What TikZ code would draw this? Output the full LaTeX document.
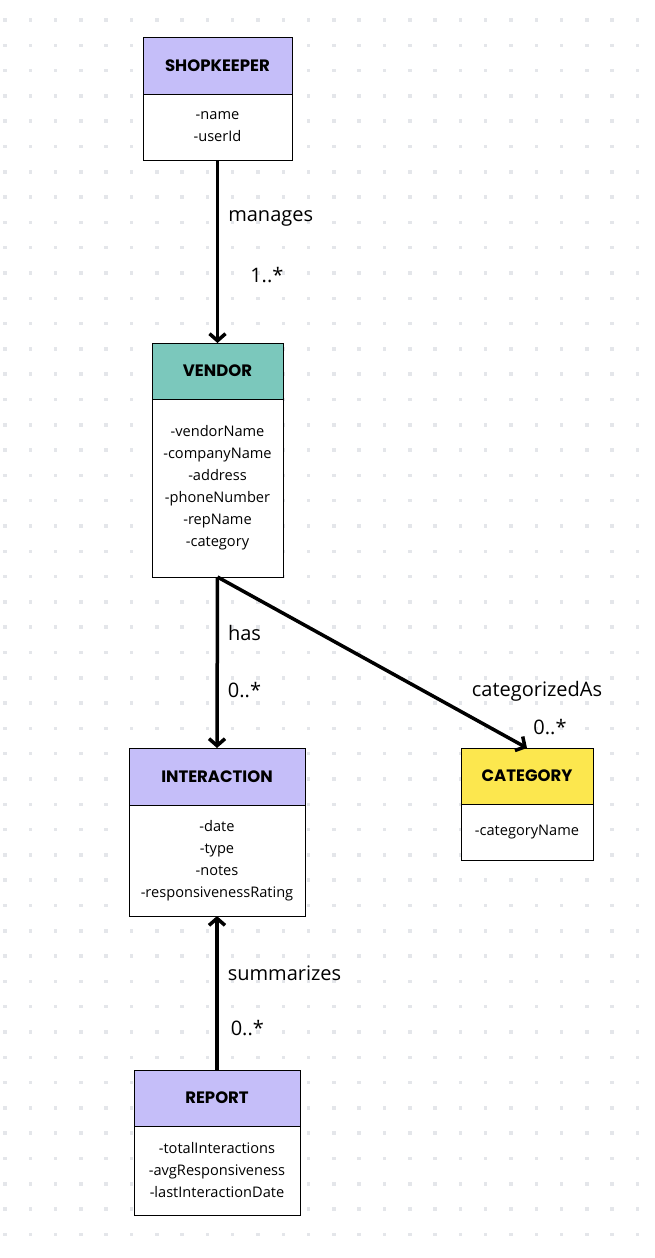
\documentclass[tikz,border=0pt]{standalone}
\usepackage{fontspec}
\setmainfont{Open Sans}
\newfontfamily\titlefont{Poppins}
\usetikzlibrary{positioning,arrows.meta}
\definecolor{classpurple}{RGB}{197,190,249}
\definecolor{classteal}{RGB}{123,200,188}
\definecolor{classyellow}{RGB}{252,231,78}
\definecolor{griddot}{RGB}{228,230,234}

\begin{document}
\begin{tikzpicture}[x=1pt, y=-1pt, node distance=0pt,
    classhead/.style={draw, line width=1pt, outer sep=0pt, inner sep=0pt, font=\titlefont\bfseries\fontsize{16.5}{18}\selectfont},
    classbody/.style={draw, line width=1pt, outer sep=0pt, inner sep=0pt, fill=white, align=center, font=\fontsize{14.6}{22}\selectfont},
    assoc/.style={line width=3.5pt, -{Straight Barb[length=7pt, width=16pt]}},
    lbl/.style={font=\fontsize{20}{22}\selectfont, inner sep=0pt}]

    \useasboundingbox (0,0) rectangle (654,1258);
    \fill[white] (0,0) rectangle (654,1258);
    % dotted background
    \foreach \i in {0,...,25}
        \foreach \j in {0,...,48}
            \fill[griddot] (3.25+25.3*\i, 18.25+25.3*\j) rectangle ++(3.5,3.5);

    % classes
    \node [classhead, fill=classpurple, minimum width=149pt, minimum height=57pt] (shopkeeper) at (217.5,65.5) {SHOPKEEPER};
    \node [classbody, minimum width=149pt, minimum height=66pt, below=of shopkeeper] (shopkeeper-attr) {-name\\-userId};

    \node [classhead, fill=classteal, minimum width=131pt, minimum height=56pt] (vendor) at (217.5,371) {VENDOR};
    \node [classbody, minimum width=131pt, minimum height=178pt, below=of vendor] (vendor-attr) {-vendorName\\-companyName\\-address\\-phoneNumber\\-repName\\-category};

    \node [classhead, fill=classpurple, minimum width=176pt, minimum height=57pt] (interaction) at (217,776.5) {INTERACTION};
    \node [classbody, minimum width=176pt, minimum height=111pt, below=of interaction] (interaction-attr) {-date\\-type\\-notes\\-responsivenessRating};

    \node [classhead, fill=classyellow, minimum width=132pt, minimum height=56pt] (category) at (527,776) {CATEGORY};
    \node [classbody, minimum width=132pt, minimum height=56pt, below=of category] (category-attr) {-categoryName};

    \node [classhead, fill=classpurple, minimum width=166pt, minimum height=56pt] (report) at (217,1098) {REPORT};
    \node [classbody, minimum width=166pt, minimum height=89pt, below=of report] (report-attr) {-totalInteractions\\-avgResponsiveness\\-lastInteractionDate};

    % associations
    \draw [assoc] (shopkeeper-attr.south) -- node [lbl, pos=0.32, anchor=west, xshift=9pt] (manages) {manages}
        node [lbl, pos=0.63, anchor=west, xshift=31pt] (manages-mult) {1..*} (vendor.north);
    \draw [assoc] (vendor-attr.south) -- node [lbl, pos=0.33, anchor=west, xshift=9pt] (has) {has}
        node [lbl, pos=0.66, anchor=west, xshift=9pt] (has-mult) {0..*} (interaction.north);
    \draw [assoc] (vendor-attr.south) -- (category.north);
    \path (category.north) ++(10,-57) node [lbl] (categorized) {categorizedAs};
    \path (category.north) ++(23,-21) node [lbl] (categorized-mult) {0..*};
    \draw [assoc] (report.north) -- node [lbl, pos=0.63, anchor=west, xshift=9pt] (summarizes) {summarizes}
        node [lbl, pos=0.27, anchor=west, xshift=12pt] (summarizes-mult) {0..*} (interaction-attr.south);
\end{tikzpicture}
\end{document}
